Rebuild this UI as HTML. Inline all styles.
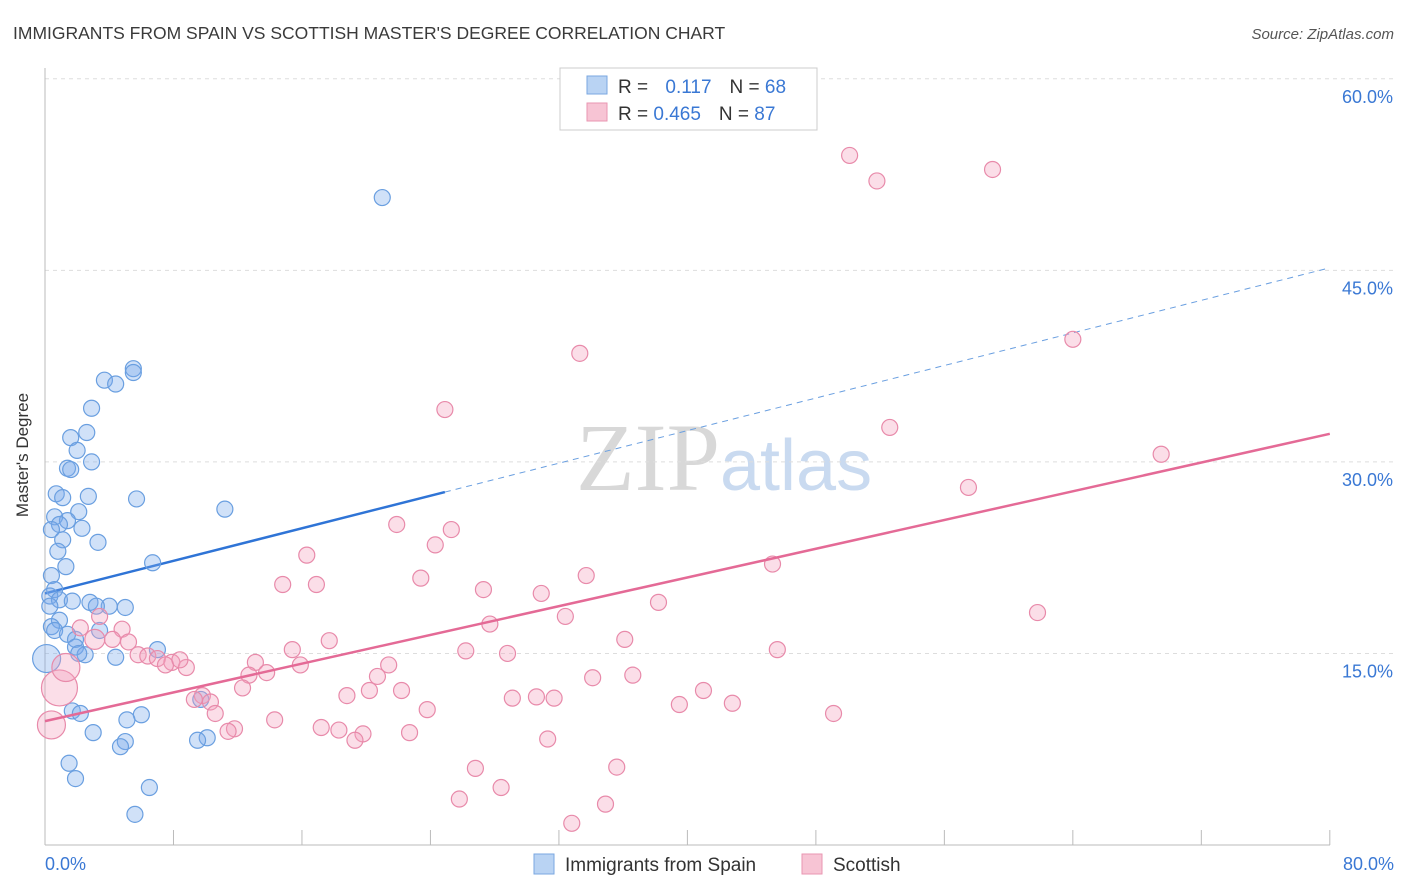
<!DOCTYPE html>
<html><head><meta charset="utf-8"><style>
body{margin:0;background:#fff;font-family:"Liberation Sans",sans-serif}
svg{display:block}
</style></head><body>
<svg width="1406" height="892" xmlns="http://www.w3.org/2000/svg">
<text x="13" y="39" font-size="17.5" fill="#3a3a3a">IMMIGRANTS FROM SPAIN VS SCOTTISH MASTER'S DEGREE CORRELATION CHART</text>
<text x="1394" y="39" font-size="15" fill="#555" font-style="italic" text-anchor="end">Source: ZipAtlas.com</text>
<text x="720" y="490" font-size="96" fill="#d8d8d8" text-anchor="end" font-family="Liberation Serif,serif">ZIP</text>
<text x="720" y="490" font-size="72" fill="#c9daf0">atlas</text>
<g id="grid"></g><g id="axes"></g><g id="lines"></g><g id="pts"></g>
<text x="28" y="455" font-size="17" fill="#333" transform="rotate(-90 28 455)" text-anchor="middle">Master's Degree</text>
<g>
<rect x="560" y="68" width="257" height="62" fill="#fff" stroke="#ccc"/>
<rect x="587" y="76" width="20" height="18" fill="#b9d3f3" stroke="#7aa7e0"/>
<rect x="587" y="103" width="20" height="18" fill="#f7c4d4" stroke="#e996b2"/>
<text x="618" y="93" font-size="19" fill="#333">R = <tspan fill="#3a78d4" dx="12">0.117</tspan><tspan dx="18" fill="#333">N = </tspan><tspan fill="#3a78d4">68</tspan></text>
<text x="618" y="120" font-size="19" fill="#333">R = <tspan fill="#3a78d4">0.465</tspan><tspan dx="18" fill="#333">N = </tspan><tspan fill="#3a78d4">87</tspan></text>
</g>
<g>
<rect x="534" y="854" width="20" height="20" fill="#b9d3f3" stroke="#7aa7e0"/>
<text x="565" y="871" font-size="19" fill="#333">Immigrants from Spain</text>
<rect x="802" y="854" width="20" height="20" fill="#f7c4d4" stroke="#e996b2"/>
<text x="833" y="871" font-size="19" fill="#333">Scottish</text>
</g>
</svg>
<script>
const blueX=[21.0,5.5,5.5,3.7,4.4,2.9,2.6,1.6,2.0,2.9,1.4,1.6,0.7,2.7,5.7,1.1,11.2,2.1,0.6,1.4,0.9,2.3,0.4,1.1,3.3,0.8,6.7,1.3,0.4,0.6,0.3,0.9,1.7,2.8,4.0,5.0,3.2,0.3,0.9,0.4,0.6,1.4,3.4,1.9,1.9,7.0,2.5,2.1,4.4,9.7,1.7,2.2,6.0,5.1,3.0,10.1,9.5,5.0,4.7,1.5,1.9,6.5,5.6,0.1];
const blueY=[50.7,37.3,37.0,36.4,36.1,34.2,32.3,31.9,30.9,30.0,29.5,29.4,27.5,27.3,27.1,27.2,26.3,26.1,25.7,25.4,25.1,24.8,24.7,23.9,23.7,23.0,22.1,21.8,21.1,20.0,19.5,19.2,19.1,19.0,18.7,18.6,18.7,18.7,17.6,17.1,16.8,16.5,16.8,16.1,15.5,15.3,14.9,15.0,14.7,11.4,10.5,10.3,10.2,9.8,8.8,8.4,8.2,8.1,7.7,6.4,5.2,4.5,2.4,14.6];
const pinkX=[50.1,51.8,59.0,64.0,33.3,24.9,52.6,69.5,57.5,21.9,25.3,24.3,16.3,45.3,33.7,23.4,14.8,16.9,27.3,30.9,38.2,61.8,32.4,3.4,27.7,2.2,4.8,36.1,17.7,5.2,4.2,15.4,45.6,26.2,28.8,5.8,6.4,7.0,7.9,8.8,7.5,8.4,13.1,15.9,21.4,20.7,12.7,13.8,34.1,36.6,12.3,20.2,22.2,18.8,41.0,30.6,31.7,29.1,9.8,9.3,10.3,10.6,23.8,39.5,42.8,49.1,14.3,17.2,18.3,11.8,11.4,22.7,19.8,19.3,31.3,26.8,35.6,28.4,25.8,34.9,32.8,0.4,0.9,1.3,3.1];
const pinkY=[54.0,52.0,52.9,39.6,38.5,34.1,32.7,30.6,28.0,25.1,24.7,23.5,22.7,22.0,21.1,20.9,20.4,20.4,20.0,19.7,19.0,18.2,17.9,17.9,17.3,17.0,16.9,16.1,16.0,15.9,16.1,15.3,15.3,15.2,15.0,14.9,14.8,14.6,14.3,13.9,14.1,14.5,14.3,14.1,14.1,13.2,13.3,13.5,13.1,13.3,12.3,12.1,12.1,11.7,12.1,11.6,11.5,11.5,11.7,11.4,11.2,10.3,10.6,11.0,11.1,10.3,9.8,9.2,9.0,9.1,8.9,8.8,8.7,8.2,8.3,6.0,6.1,4.5,3.6,3.2,1.7,9.4,12.3,13.9,16.1];
const pinkBig=[0.4,0.9,1.3,3.1];
const yTicks=[15,30,45,60];
const xTickLabels=["0.0%","80.0%"];
const blueTrend=[19.7,45.2], blueSolidEnd=24.9;
const pinkTrend=[9.7,32.2];
const NS="http://www.w3.org/2000/svg";
const X=v=>45+v*16.06, Y=v=>845-v*12.77;
function mk(p,tag,a){const e=document.createElementNS(NS,tag);for(const k in a)e.setAttribute(k,a[k]);document.getElementById(p).appendChild(e);return e;}
yTicks.forEach(t=>{
 const g=mk('grid','line',{x1:45,x2:1395,y1:Y(t),y2:Y(t),stroke:'#ddd','stroke-dasharray':'4,4'});
 
 
 const l=mk('grid','text',{x:1393,y:Y(t)+24,'font-size':18,fill:'#3a78d4','text-anchor':'end'});l.textContent=t.toFixed(1)+'%';
 
 
});
mk('axes','line',{x1:45,x2:45,y1:68,y2:845,stroke:'#bbb'});
mk('axes','line',{x1:45,x2:1330,y1:845,y2:845,stroke:'#bbb'});
for(let i=0;i<=10;i++){mk('axes','line',{x1:X(i*8),x2:X(i*8),y1:830,y2:845,stroke:'#bbb'});}
const a=mk('axes','text',{x:45,y:870,'font-size':18,fill:'#3a78d4'});a.textContent=xTickLabels[0];


const b=mk('axes','text',{x:1394,y:870,'font-size':18,fill:'#3a78d4','text-anchor':'end'});b.textContent=xTickLabels[1];


function tr(c,x){return c[0]+(c[1]-c[0])*x/80;}
const bl=mk('lines','line',{x1:X(0),y1:Y(tr(blueTrend,0)),x2:X(blueSolidEnd),y2:Y(tr(blueTrend,blueSolidEnd)),stroke:'#2f74d6','stroke-width':2.5});


const bd=mk('lines','line',{x1:X(blueSolidEnd),y1:Y(tr(blueTrend,blueSolidEnd)),x2:X(80),y2:Y(tr(blueTrend,80)),stroke:'#6a9fe0','stroke-width':1,'stroke-dasharray':'6,5'});


blueX.forEach((x,i)=>{const c=mk('pts','circle',{cx:X(x),cy:Y(blueY[i]),r:i==blueX.length-1?14:8,fill:'rgba(120,170,235,0.35)',stroke:'#6a9fe0','stroke-width':1.2});
 
 });
pinkX.forEach((x,i)=>{const big=i>=pinkX.length-4;const r=big?[14,18,14,10][i-(pinkX.length-4)]:8;
 const c=mk('pts','circle',{cx:X(x),cy:Y(pinkY[i]),r:r,fill:'rgba(244,160,190,0.35)',stroke:'#e88aaa','stroke-width':1.2});
 
 });
const pl=mk('pts','line',{x1:X(0),y1:Y(tr(pinkTrend,0)),x2:X(80),y2:Y(tr(pinkTrend,80)),stroke:'#e46a96','stroke-width':2.5});


</script>
</body></html>
